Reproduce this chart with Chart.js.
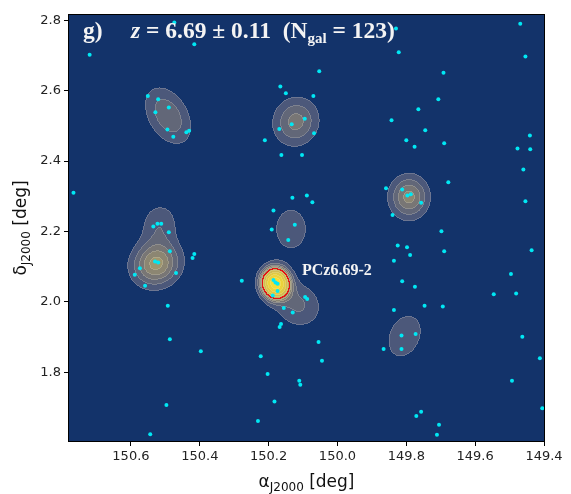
<!DOCTYPE html>
<html>
<head>
<meta charset="utf-8">
<script src="https://cdn.jsdelivr.net/npm/chart.js@4"></script>
<style>
  html, body { margin: 0; padding: 0; background: #fff; }
  canvas { display: block; }
</style>
</head>
<body>
<canvas id="field" width="571" height="494"></canvas>
<script>
// galaxies of the z = 6.69 slice (RA, Dec in deg)
const GAL_RA = [
  150.474, 150.416, 150.720, 150.166, 150.150, 150.551, 150.521, 150.490, 150.529, 150.095,
  150.133, 150.494, 150.431, 150.439, 150.169, 150.477, 150.211, 150.163, 150.103, 150.767,
  150.131, 150.089, 150.186, 150.523, 150.512, 150.535, 150.124, 150.191,
  149.830, 149.469, 149.454, 149.822, 150.053, 149.692, 150.070, 149.707, 149.765, 149.843,
  150.068, 149.745, 149.800, 149.776, 149.690, 149.441, 149.477, 149.440, 149.460, 149.678,
  149.454, 149.859, 149.812, 149.797, 149.787, 149.757, 149.840, 150.073,
  150.490, 150.143, 150.487, 150.416, 150.421, 150.530, 150.521, 150.574, 150.469, 150.589,
  150.559, 150.278, 150.186, 150.180, 150.174, 150.174, 150.188, 150.094, 150.088, 150.493,
  150.156, 150.130, 150.164, 150.168, 150.487, 150.397, 150.223, 150.203, 150.111, 150.108,
  150.497, 150.183, 150.231, 150.544,
  149.698, 149.825, 149.798, 149.690, 149.789, 149.436, 149.836, 149.496, 149.546, 149.481,
  149.812, 149.775, 149.747, 149.694, 149.836, 149.814, 149.773, 149.814, 149.866, 150.055,
  150.045, 149.463, 149.412, 149.493, 149.405, 149.757, 149.771, 149.705, 149.711
];
const GAL_DEC = [
  2.794, 2.732, 2.702, 2.612, 2.593, 2.585, 2.576, 2.552, 2.539, 2.520,
  2.505, 2.490, 2.486, 2.482, 2.491, 2.469, 2.459, 2.417, 2.417, 2.310,
  2.296, 2.302, 2.260, 2.222, 2.222, 2.214, 2.219, 2.206,
  2.777, 2.790, 2.697, 2.709, 2.655, 2.651, 2.585, 2.576, 2.547, 2.516,
  2.479, 2.488, 2.459, 2.441, 2.451, 2.473, 2.436, 2.434, 2.376, 2.340,
  2.286, 2.323, 2.319, 2.302, 2.306, 2.282, 2.247, 2.283,
  2.198, 2.176, 2.144, 2.136, 2.125, 2.115, 2.112, 2.096, 2.082, 2.077,
  2.046, 2.060, 2.062, 2.055, 2.052, 2.031, 2.018, 2.014, 2.008, 1.989,
  1.983, 1.970, 1.937, 1.929, 1.894, 1.860, 1.846, 1.795, 1.776, 1.765,
  1.707, 1.717, 1.662, 1.624,
  2.201, 2.160, 2.155, 2.144, 2.133, 2.147, 2.117, 2.079, 2.022, 2.024,
  2.059, 2.043, 1.989, 1.987, 1.977, 1.905, 1.909, 1.866, 1.866, 1.886,
  1.833, 1.901, 1.840, 1.776, 1.698, 1.688, 1.676, 1.651, 1.623
];

// overdensity map, one elliptical gaussian per component
const PEAK_RA    = [150.492, 150.121, 150.135, 150.527, 150.517, 150.180, 150.115, 149.792, 149.805];
const PEAK_DEC   = [2.529,   2.512,   2.207,   2.108,   2.220,   2.053,   1.992,   2.298,   1.903];
const PEAK_AMP   = [2.9,     3.45,    1.6,     5.42,    1.8,     24.5,    2.2,     4.43,    1.6];
const PEAK_SMAJ  = [0.060,   0.046,   0.056,   0.046,   0.045,   0.0255,  0.050,   0.040,   0.062];
const PEAK_SMIN  = [0.039,   0.043,   0.0445,  0.041,   0.039,   0.0235,  0.044,   0.037,   0.0445];
const PEAK_ANGLE = [-58,     60,      90,      20,      80,      -75,     -30,     90,      65];

const LEVELS = [1, 2, 3, 4, 5, 6, 8, 11, 15, 20];
const RED_LEVEL = 6;

const X_TICKS = [150.6, 150.4, 150.2, 150.0, 149.8, 149.6, 149.4];
const Y_TICKS = [1.8, 2.0, 2.2, 2.4, 2.6, 2.8];

const BG = [19, 51, 106];
const BAND_COLORS = [
  BG,
  [76, 88, 122], [98, 103, 120], [120, 118, 117], [140, 134, 114], [160, 150, 110],
  [192, 175, 94], [210, 189, 80], [225, 201, 68], [236, 211, 58], [244, 220, 50]
];

function density(ra, dec) {
  let d = 0;
  for (let k = 0; k < PEAK_RA.length; k++) {
    const dx = PEAK_RA[k] - ra;      // RA grows to the left
    const dy = dec - PEAK_DEC[k];
    const t = PEAK_ANGLE[k] * Math.PI / 180;
    const u = dx * Math.cos(t) + dy * Math.sin(t);
    const v = -dx * Math.sin(t) + dy * Math.cos(t);
    d += PEAK_AMP[k] * Math.exp(-0.5 * (u * u / (PEAK_SMAJ[k] ** 2) + v * v / (PEAK_SMIN[k] ** 2)));
  }
  return d;
}

// paints the background + contour map inside the axes
const mapPlugin = {
  id: 'densityMap',
  beforeDatasetsDraw(chart) {
    const { ctx, chartArea: a, scales } = chart;
    const x0 = Math.round(a.left), y0 = Math.round(a.top);
    const w = Math.round(a.right) - x0, h = Math.round(a.bottom) - y0;
    const dens = new Float32Array(w * h);
    const band = new Uint8Array(w * h);
    for (let j = 0; j < h; j++) {
      const dec = scales.y.getValueForPixel(y0 + j + 0.5);
      for (let i = 0; i < w; i++) {
        const ra = scales.x.getValueForPixel(x0 + i + 0.5);
        const d = density(ra, dec);
        let b = 0;
        while (b < LEVELS.length && d >= LEVELS[b]) b++;
        dens[j * w + i] = d;
        band[j * w + i] = b;
      }
    }
    const img = ctx.createImageData(w, h);
    for (let j = 0; j < h; j++) {
      for (let i = 0; i < w; i++) {
        const k = j * w + i;
        const b = band[k];
        let c = BAND_COLORS[b];
        let edge = false, red = false;
        for (let dj = -1; dj <= 1; dj++) {
          for (let di = -1; di <= 1; di++) {
            const ii = i + di, jj = j + dj;
            if (ii < 0 || jj < 0 || ii >= w || jj >= h) continue;
            const kk = jj * w + ii;
            if ((di === 0 || dj === 0) && band[kk] < b) edge = true;
            if (dens[k] >= RED_LEVEL && dens[kk] < RED_LEVEL) red = true;
          }
        }
        if (red) c = [228, 18, 20];
        else if (edge) c = c.map(v => Math.round(v + (225 - v) * 0.22));
        img.data[k * 4] = c[0];
        img.data[k * 4 + 1] = c[1];
        img.data[k * 4 + 2] = c[2];
        img.data[k * 4 + 3] = 255;
      }
    }
    ctx.putImageData(img, x0, y0);
  },
  afterDatasetsDraw(chart) {
    const { ctx, chartArea: a } = chart;
    ctx.save();
    ctx.strokeStyle = '#000';
    ctx.lineWidth = 1;
    ctx.strokeRect(Math.round(a.left) - 0.5, Math.round(a.top) - 0.5,
      Math.round(a.right - a.left) + 1, Math.round(a.bottom - a.top) + 1);
    ctx.restore();
  }
};

// draws a row of text runs: [text, font, dy]
function runs(ctx, x, y, parts, color) {
  ctx.fillStyle = color;
  ctx.textBaseline = 'alphabetic';
  ctx.textAlign = 'left';
  for (const [t, f, dy] of parts) {
    ctx.font = f;
    ctx.fillText(t, x, y + (dy || 0));
    x += ctx.measureText(t).width;
  }
  return x;
}
function runsWidth(ctx, parts) {
  let w = 0;
  for (const [t, f] of parts) { ctx.font = f; w += ctx.measureText(t).width; }
  return w;
}

const textPlugin = {
  id: 'labels',
  afterDraw(chart) {
    const { ctx, chartArea: a } = chart;
    ctx.save();
    const serif = '"Liberation Serif", "Times New Roman", serif';
    const big = 'bold 23.5px ' + serif;
    runs(ctx, 83, 38, [['g)', big]], '#f4f4f4');
    runs(ctx, 131, 38, [
      ['z', 'italic bold 23.5px ' + serif],
      [' = 6.69 \u00b1 0.11  (N', big],
      ['gal', 'bold 15px ' + serif, 5],
      [' = 123)', big]
    ], '#f4f4f4');
    runs(ctx, 302, 275, [['PCz6.69-2', 'bold 16px ' + serif]], '#f4f4f4');

    const sans = '"DejaVu Sans", sans-serif';
    const xl = [['\u03b1', '17px ' + sans], ['J2000', '12px ' + sans, 4], [' [deg]', '17px ' + sans]];
    const xw = runsWidth(ctx, xl);
    runs(ctx, (a.left + a.right) / 2 - xw / 2, 487, xl, '#111');

    const yl = [['\u03b4', '17px ' + sans], ['J2000', '12px ' + sans, 4], [' [deg]', '17px ' + sans]];
    const yw = runsWidth(ctx, yl);
    ctx.translate(26, (a.top + a.bottom) / 2);
    ctx.rotate(-Math.PI / 2);
    runs(ctx, -yw / 2, 0, yl, '#111');
    ctx.restore();
  }
};

const axisCommon = {
  type: 'linear',
  grid: { drawOnChartArea: false, drawTicks: true, tickLength: 5, color: '#000', tickWidth: 1 },
  border: { display: false },
  ticks: { color: '#222', font: { family: 'DejaVu Sans', size: 13 }, padding: 3, callback: v => v.toFixed(1) }
};

new Chart(document.getElementById('field'), {
  type: 'scatter',
  data: {
    datasets: [{
      data: GAL_RA.map((ra, i) => ({ x: ra, y: GAL_DEC[i] })),
      pointRadius: 2,
      pointBackgroundColor: '#00e8f4',
      pointBorderWidth: 0
    }]
  },
  options: {
    responsive: false,
    animation: false,
    layout: { padding: { top: 15, right: 27, left: 0, bottom: 0 } },
    plugins: { legend: { display: false }, tooltip: { enabled: false } },
    scales: {
      x: {
        ...axisCommon, reverse: true, min: 149.4, max: 150.78,
        afterBuildTicks: s => { s.ticks = X_TICKS.map(v => ({ value: v })); },
        afterFit: s => { s.height = 53; }
      },
      y: {
        ...axisCommon, min: 1.605, max: 2.815,
        afterBuildTicks: s => { s.ticks = Y_TICKS.map(v => ({ value: v })); },
        afterFit: s => { s.width = 69; }
      }
    }
  },
  plugins: [mapPlugin, textPlugin]
});
</script>
</body>
</html>
